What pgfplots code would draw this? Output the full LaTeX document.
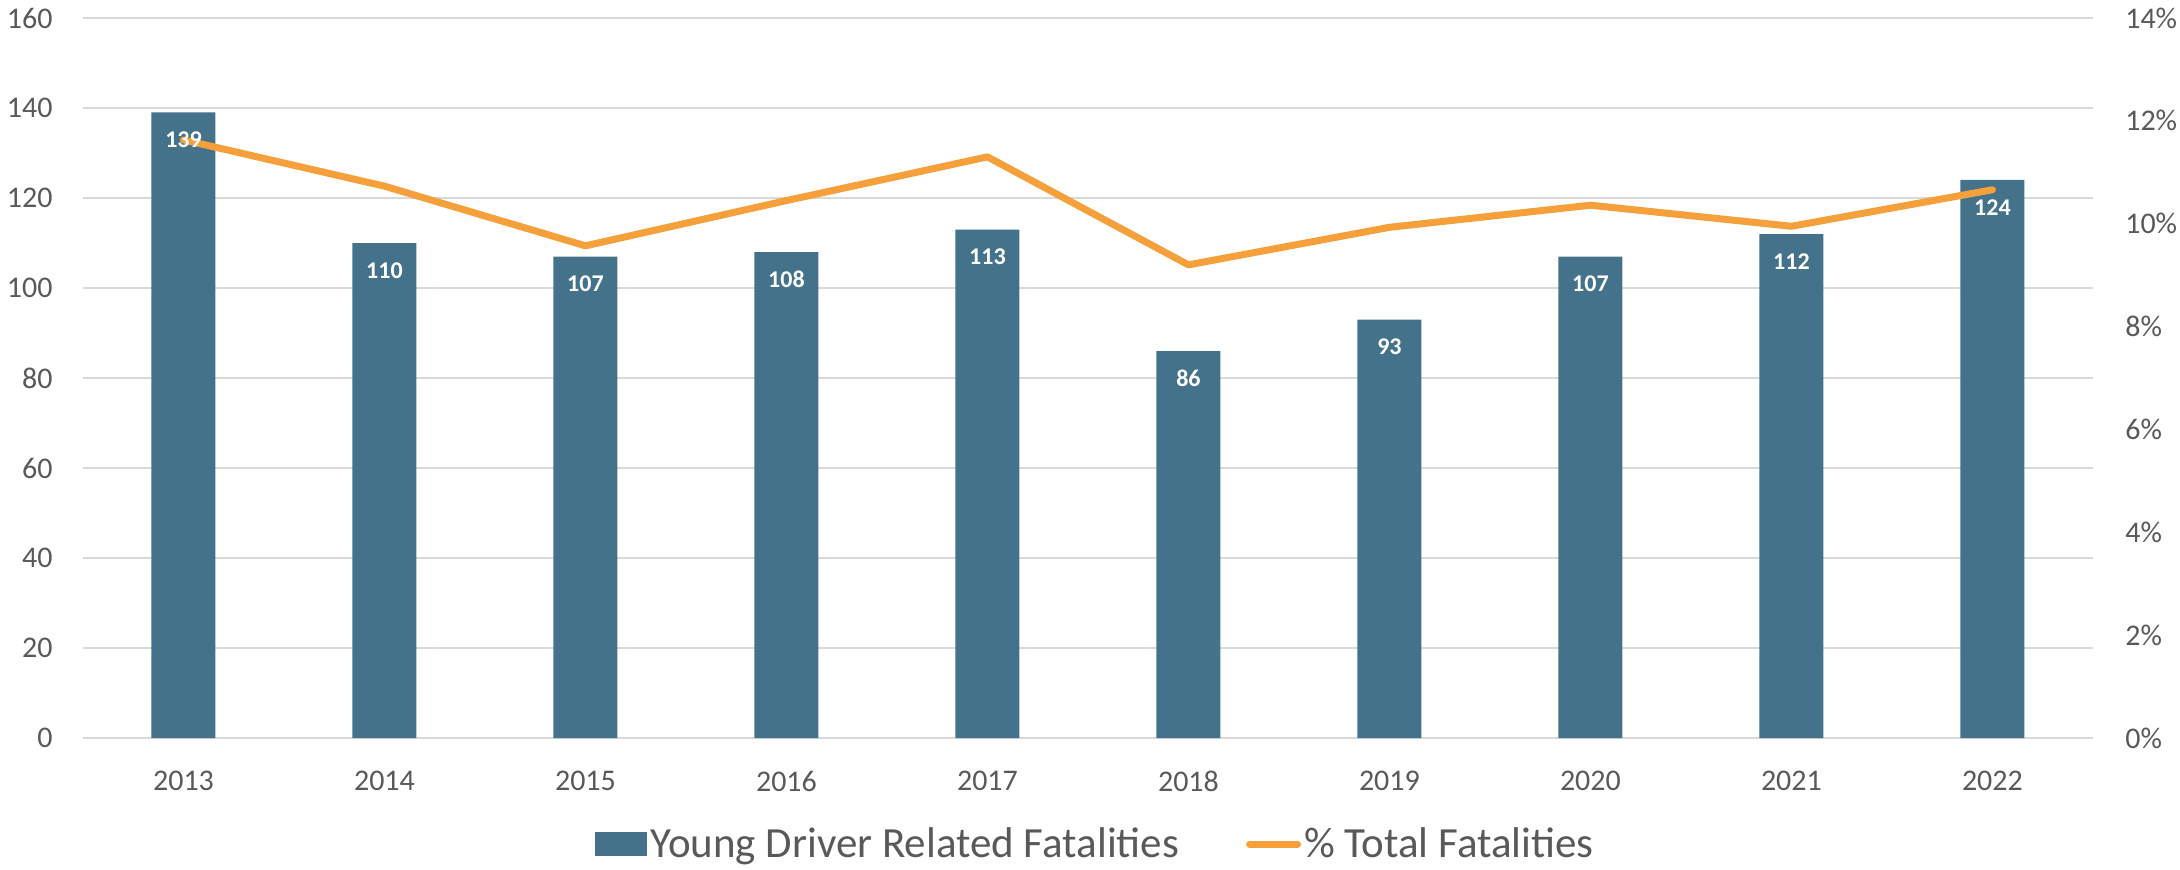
\documentclass[border=0pt]{standalone}
\usepackage{pgfplots}
\pgfplotsset{compat=1.18}
\usepackage{pgfplotstable}
\usepackage{fontspec}
\setmainfont{Carlito}
\definecolor{barc}{HTML}{44728A}
\definecolor{linec}{HTML}{F5A03A}
\definecolor{gridc}{HTML}{D9D9D9}
\definecolor{txt}{HTML}{595959}

\pgfplotstableread{
x val
0 139
1 110
2 107
3 108
4 113
5 86
6 93
7 107
8 112
9 124
}\bars

\pgfplotstableread{
x pct
0 11.63
1 10.73
2 9.57
3 10.45
4 11.30
5 9.20
6 9.93
7 10.36
8 9.95
9 10.66
}\pcts

\begin{document}
\begin{tikzpicture}
\pgfplotsset{
  base/.style={
    width=1005pt, height=360pt, scale only axis,
    at={(0,0)}, anchor=south west,
    xmin=-0.5, xmax=9.5,
    /pgf/number format/assume math mode=true,
    tick label style={font=\fontsize{15}{18}\selectfont, text=txt},
    major tick length=0pt,
    axis line style={draw=none},
    clip=false,
  }
}
\begin{axis}[base,
  ymin=0, ymax=160,
  xtick={0,...,9},
  xticklabels={2013,2014,2015,2016,2017,2018,2019,2020,2021,2022},
  xticklabel style={anchor=center, inner sep=0pt, yshift=-21.5pt},
  ytick={0,20,...,160},
  yticklabel style={anchor=east, inner sep=0pt, xshift=-15pt},
  ymajorgrids,
  grid style={gridc, line width=1pt},
  ybar, bar width=32pt,
  legend style={draw=none, fill=none, at={(0.5,0)}, anchor=center,
    yshift=-53pt, xshift=4pt,
    font=\fontsize{21.5}{24}\selectfont, text=txt,
    legend columns=2,
    /tikz/every even column/.append style={column sep=32pt},
    nodes={inner sep=1.5pt}},
]
\addplot[fill=barc, draw=none,
  legend image code/.code={\fill[barc] (0pt,-6pt) rectangle (26pt,6pt);}]
  table[x=x, y=val]{\bars};
\addlegendentry{Young Driver Related Fatalities}
\addlegendimage{legend image code/.code={\draw[linec, line width=3.5pt, line cap=round] (2pt,0pt) -- (26pt,0pt);}}
\addlegendentry{\% Total Fatalities}
\end{axis}

\begin{axis}[base,
  ymin=0, ymax=14,
  axis y line*=right,
  axis x line=none,
  ytick={0,2,...,14},
  yticklabel={\pgfmathprintnumber{\tick}\%},
  yticklabel style={anchor=west, inner sep=0pt, xshift=16pt},
]
\addplot[linec, line width=3.5pt, line join=round, line cap=round, mark=none]
  table[x=x, y=pct]{\pcts};
\end{axis}

\begin{axis}[base, hide axis,
  ymin=0, ymax=160,
  ybar, bar width=32pt,
]
\addplot[draw=none, fill=none,
  nodes near coords,
  every node near coord/.append style={anchor=center, inner sep=0pt,
    yshift=-13.75pt, text=white, font=\fontsize{12}{14}\selectfont\bfseries}]
  table[x=x, y=val]{\bars};
\end{axis}

\pgfresetboundingbox
\path (-41.5pt,-65.5pt) rectangle (1048.5pt,369pt);
\end{tikzpicture}
\end{document}
